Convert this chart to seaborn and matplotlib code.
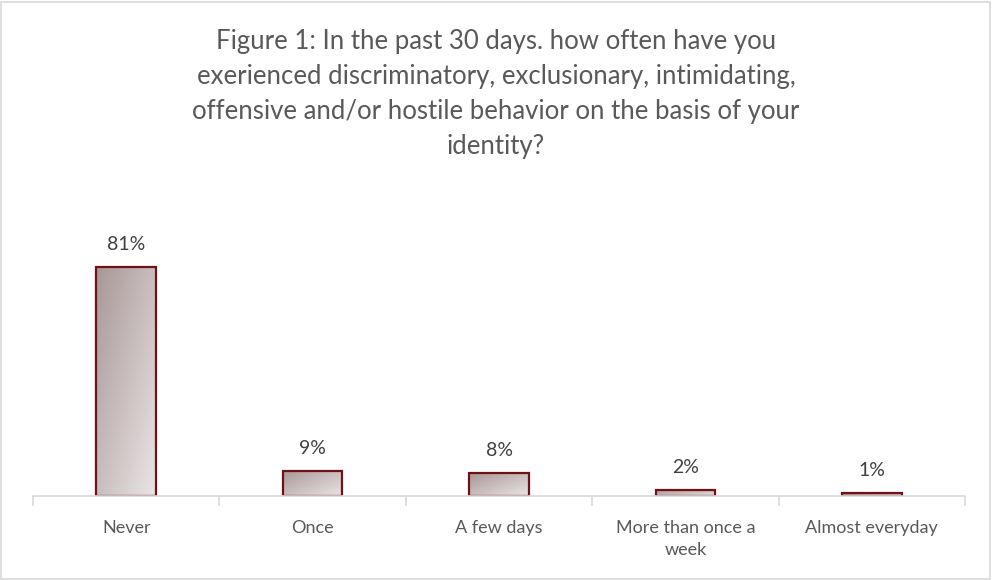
import numpy as np
import pandas as pd
import matplotlib
matplotlib.use("Agg")
import matplotlib.pyplot as plt
import seaborn as sns
from matplotlib.colors import LinearSegmentedColormap
from matplotlib.patches import Rectangle

categories = ["Never", "Once", "A few days", "More than once a\nweek", "Almost everyday"]
percent = [81, 9, 8, 2, 1]
value_labels = ["81%", "9%", "8%", "2%", "1%"]
title = ("Figure 1: In the past 30 days. how often have you\n"
         "exerienced discriminatory, exclusionary, intimidating,\n"
         "offensive and/or hostile behavior on the basis of your\n"
         "identity?")

df = pd.DataFrame({"category": categories, "percent": percent})

sns.set_theme(style="white")
plt.rcParams["font.family"] = ["Lato", "DejaVu Sans"]

fig = plt.figure(figsize=(9.92, 5.8), dpi=100)
ax = fig.add_axes([33 / 992, 84 / 580, 932 / 992, (496 - 241.4) / 580])

sns.barplot(data=df, x="category", y="percent", ax=ax, width=0.32,
            color="#c8bebe", edgecolor="#6e1216", linewidth=1.6)

# diagonal gradient fill inside each bar: darker top-left, lighter bottom-right
grad_cmap = LinearSegmentedColormap.from_list("bar_grad", ["#a99797", "#e9e5e5"])
gx, gy = np.meshgrid(np.linspace(0, 1, 64), np.linspace(0, 1, 64))
grad = (gx + gy) / 2.0
for patch in ax.patches:
    x0, y0 = patch.get_x(), patch.get_y()
    w, h = patch.get_width(), patch.get_height()
    im = ax.imshow(grad, cmap=grad_cmap, extent=(x0, x0 + w, y0, y0 + h),
                   origin="upper", aspect="auto", zorder=patch.get_zorder() - 0.1,
                   interpolation="bilinear")
    im.set_clip_path(patch)
    patch.set_facecolor("none")
    patch.set_zorder(patch.get_zorder() + 0.2)

ax.set_xlim(-0.5, len(categories) - 0.5)
ax.set_ylim(0, 90)

# value labels above bars
for i, (v, lab) in enumerate(zip(percent, value_labels)):
    ax.annotate(lab, (i, v), xytext=(0, 10), textcoords="offset points",
                ha="center", va="bottom", fontsize=14, color="#404040")

for side in ["top", "right", "left"]:
    ax.spines[side].set_visible(False)
ax.spines["bottom"].set_color("#d9d9d9")
ax.spines["bottom"].set_linewidth(1.2)
ax.set_yticks([])
ax.set_xlabel("")
ax.set_ylabel("")
ax.set_xticks(np.arange(len(categories)))
ax.set_xticklabels(categories, fontsize=13, color="#595959", linespacing=1.5)
ax.tick_params(axis="x", length=0, pad=17)
for lbl in ax.get_xticklabels():
    lbl.set_verticalalignment("top")
# category separators below the axis line
ax.set_xticks(np.arange(-0.5, len(categories)), minor=True)
ax.tick_params(axis="x", which="minor", length=7, color="#d9d9d9", width=1.2,
               bottom=True)

fig.text(0.5, 1 - 29 / 580, title, ha="center", va="top", fontsize=18.5,
         color="#595959", linespacing=1.5)

fig.add_artist(Rectangle((1 / 992, 1 / 580), 989 / 992, 577 / 580,
                         transform=fig.transFigure, fill=False,
                         edgecolor="#d9d9d9", linewidth=1.2))

fig.savefig("out.png", dpi=100)
